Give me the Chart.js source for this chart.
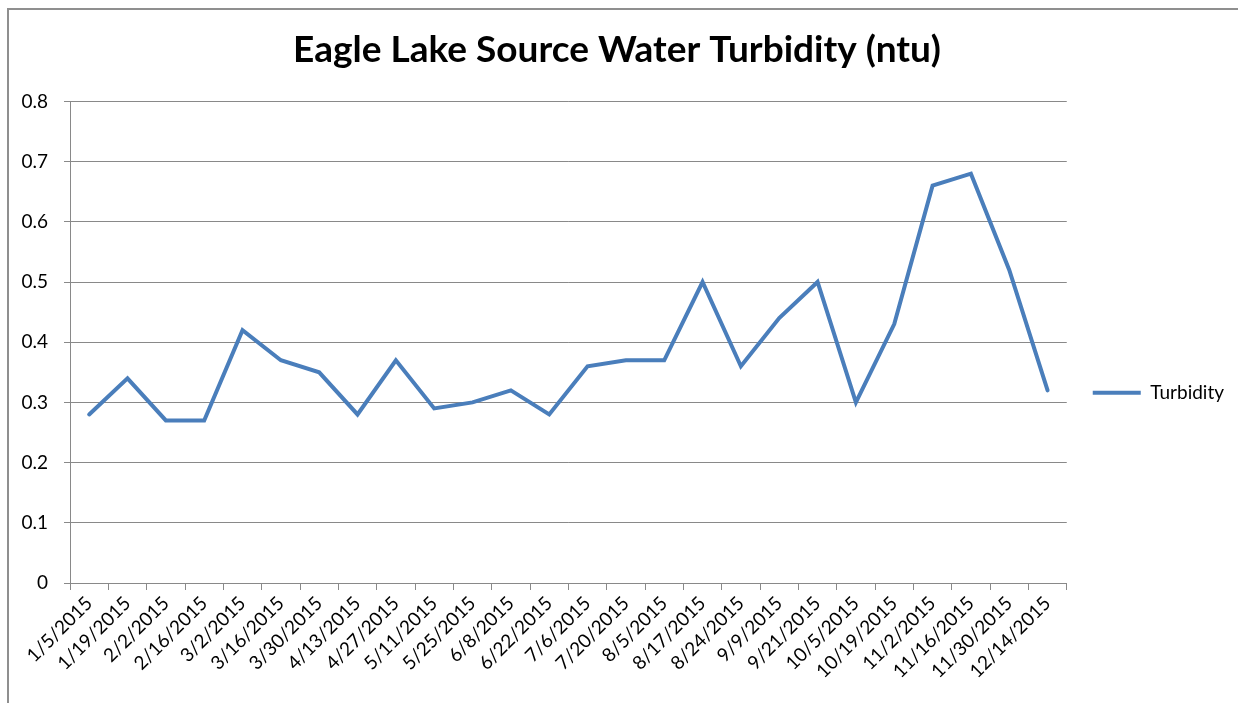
<!DOCTYPE html>
<html>
<head>
<meta charset="utf-8">
<script src="https://cdn.jsdelivr.net/npm/chart.js@4.4.1/dist/chart.umd.min.js"></script>
<style>
  html, body { margin: 0; padding: 0; background: #fff; }
  #wrap { position: relative; width: 1238px; height: 703px; overflow: hidden; }
  #frame { position: absolute; left: 7px; top: 8px; width: 1300px; height: 800px;
           border-left: 2px solid #8f8f8f; border-top: 2px solid #8f8f8f; }
  #turbidityChart { position: absolute; left: 0; top: 0; }
</style>
</head>
<body>
<div id="wrap">
  <div id="frame"></div>
  <canvas id="turbidityChart" width="1238" height="703"></canvas>
</div>
<script>
// data
const dates = [
  '1/5/2015', '1/19/2015', '2/2/2015', '2/16/2015', '3/2/2015', '3/16/2015',
  '3/30/2015', '4/13/2015', '4/27/2015', '5/11/2015', '5/25/2015', '6/8/2015',
  '6/22/2015', '7/6/2015', '7/20/2015', '8/5/2015', '8/17/2015', '8/24/2015',
  '9/9/2015', '9/21/2015', '10/5/2015', '10/19/2015', '11/2/2015', '11/16/2015',
  '11/30/2015', '12/14/2015'
];
const turbidity = [
  0.28, 0.34, 0.27, 0.27, 0.42, 0.37,
  0.35, 0.28, 0.37, 0.29, 0.30, 0.32,
  0.28, 0.36, 0.37, 0.37, 0.50, 0.36,
  0.44, 0.50, 0.30, 0.43, 0.66, 0.68,
  0.52, 0.32
];
const yTicks = [0, 0.1, 0.2, 0.3, 0.4, 0.5, 0.6, 0.7, 0.8];

const font = 'Lato, "Open Sans", sans-serif';
const gridGray = '#898989';

const turbidityData = {
    labels: dates,
    datasets: [
        {
            label: 'Turbidity',
            data: turbidity,
            borderColor: '#4A7EBB',
            backgroundColor: '#4A7EBB',
            borderWidth: 4,
            pointRadius: 0,
            tension: 0,
            borderCapStyle: 'round',
            borderJoinStyle: 'miter'
        }
    ]
};

const turbidityConfig = {
    type: 'line',
    data: turbidityData,
    options: {
        responsive: false,
        animation: false,
        layout: { padding: { left: 0, right: 4, top: 0, bottom: 0 } },
        scales: {
            x: {
                offset: true,
                grid: {
                    offset: true,
                    drawOnChartArea: false,
                    drawTicks: true,
                    tickLength: 7,
                    color: gridGray
                },
                border: { color: gridGray, width: 1 },
                ticks: {
                    autoSkip: false,
                    minRotation: 45,
                    maxRotation: 45,
                    color: '#000',
                    padding: 2,
                    font: { family: font, size: 19 }
                },
                afterFit: scale => { scale.height = 120; }
            },
            y: {
                min: 0,
                max: 0.8,
                afterBuildTicks: scale => { scale.ticks = yTicks.map(v => ({ value: v })); },
                grid: {
                    color: gridGray,
                    tickLength: 6
                },
                border: { color: gridGray, width: 1 },
                ticks: {
                    color: '#000',
                    padding: 16,
                    font: { family: font, size: 19 },
                    callback: v => String(Math.round(v * 10) / 10)
                },
                afterFit: scale => { scale.width = 70; }
            }
        },
        plugins: {
            title: {
                display: true,
                text: 'Eagle Lake Source Water Turbidity (ntu)',
                color: '#000',
                font: { family: font, size: 37, weight: 'bold', lineHeight: 1.2 },
                padding: { top: 28, bottom: 29 }
            },
            legend: {
                display: true,
                position: 'right',
                // blank title only nudges the entry down
                title: { display: true, text: ' ', padding: { top: 34, bottom: 34 } },
                labels: {
                    usePointStyle: true,
                    pointStyle: 'line',
                    pointStyleWidth: 48,
                    padding: 26,
                    color: '#000',
                    font: { family: font, size: 19 }
                }
            },
            tooltip: { enabled: false }
        }
    }
};

const turbidityElement = document.querySelector('#turbidityChart');
const turbidityChart = new Chart(turbidityElement, turbidityConfig);
</script>
</body>
</html>
